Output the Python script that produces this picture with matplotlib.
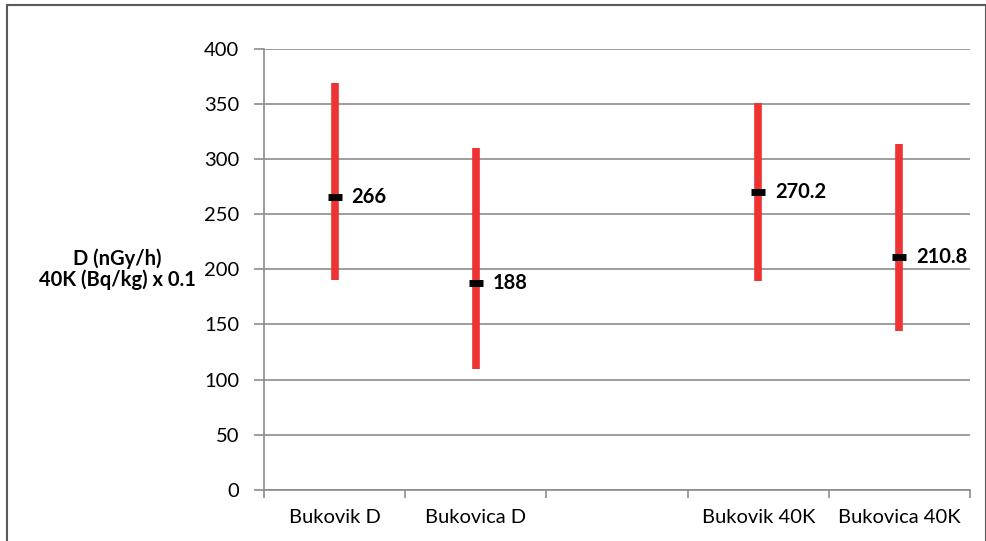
import matplotlib.pyplot as plt
from matplotlib.patches import Rectangle

plt.rcParams['font.family'] = ['Lato', 'DejaVu Sans']

# data
categorias = ["Bukovik D", "Bukovica D", "", "Bukovik 40K", "Bukovica 40K"]
posiciones = [0, 1, 3, 4]
minimos = [190, 110, 189, 144]
maximos = [369, 310, 351, 314]
medias = [266, 188, 270.2, 210.8]
etiquetas = ["266", "188", "270.2", "210.8"]

fig = plt.figure(figsize=(9.87, 5.41), dpi=100)
ax = fig.add_axes([0.2675, 0.0943, 0.7153, 0.8157])

gris = '#8c8c8c'
ax.vlines(posiciones, minimos, maximos, color='#ee3333', linewidth=5.5, zorder=3)
ax.plot(posiciones, medias, linestyle='none', marker='_', markersize=9.5,
        markeredgewidth=5, color='black', zorder=4)

for x, y, t in zip(posiciones, medias, etiquetas):
    ax.annotate(t, (x, y), xytext=(12, 0), textcoords='offset points',
                ha='left', va='center', fontsize=14.5, fontweight='bold')

ax.set_xlim(-0.5, len(categorias) - 0.5)
ax.set_ylim(0, 400)
ax.set_yticks(range(0, 401, 50))
ax.set_xticks(range(len(categorias)))
ax.set_xticklabels(categorias, fontsize=14.5)
ax.set_xticks([i - 0.5 for i in range(len(categorias) + 1)], minor=True)
ax.tick_params(axis='x', which='major', length=0, pad=14)
ax.tick_params(axis='x', which='minor', length=6, color=gris, width=1.2)
ax.tick_params(axis='y', length=7, color=gris, width=1.2, pad=11, labelsize=14.5)

ax.grid(axis='y', color=gris, linewidth=1.2)
ax.set_axisbelow(True)
for s in ['top', 'right']:
    ax.spines[s].set_visible(False)
for s in ['left', 'bottom']:
    ax.spines[s].set_color(gris)
    ax.spines[s].set_linewidth(1.2)

fig.text(117 / 987, 1 - 269 / 541, "D (nGy/h)\n40K (Bq/kg) x 0.1",
         ha='center', va='center', fontsize=14.5, fontweight='bold',
         linespacing=1.05)

# marco exterior
fig.patches.append(Rectangle((7 / 987, -0.01), 979 / 987, 1 - 5 / 541 + 0.01,
                             transform=fig.transFigure, fill=False,
                             edgecolor='#595959', linewidth=1.5))

fig.savefig('out.png', dpi=100)
